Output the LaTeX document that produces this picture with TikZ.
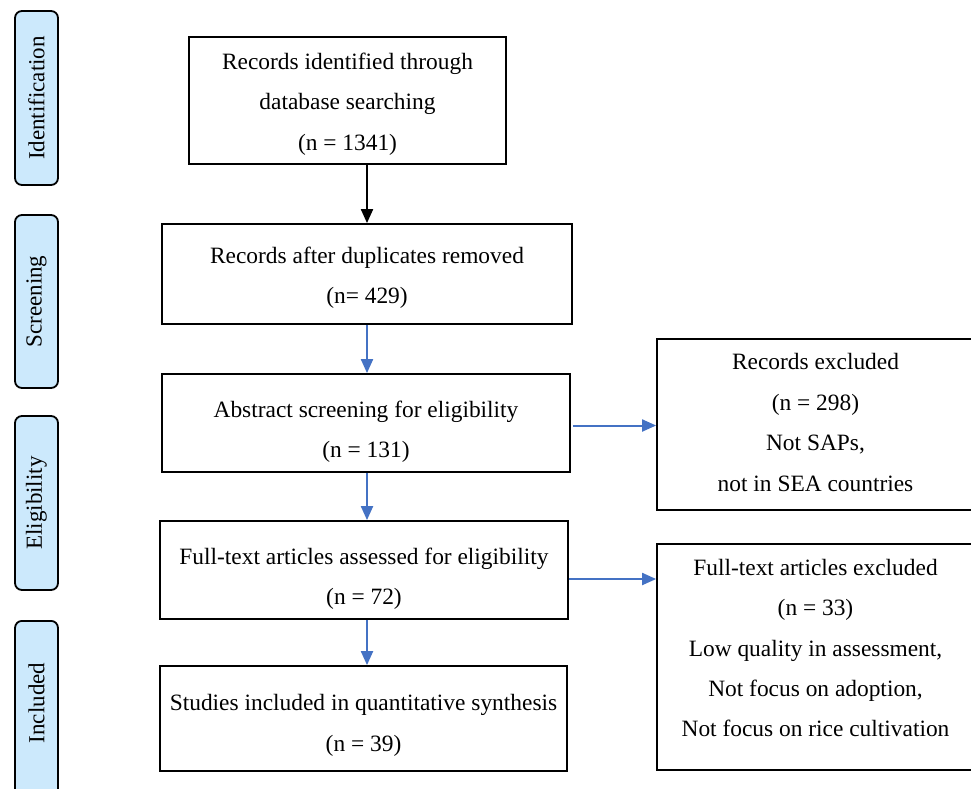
\documentclass[tikz,border=0pt]{standalone}
\usepackage{fontspec}
\setmainfont{Liberation Serif}
\usetikzlibrary{arrows.meta,calc}
\definecolor{sidefill}{HTML}{CCE9FC}
\definecolor{arrblue}{HTML}{4472C4}
\begin{document}
\begin{tikzpicture}[x=1pt,y=-1pt,
  box/.style={draw=black,line width=1.8pt,rectangle,inner sep=0pt},
  txt/.style={align=center,inner sep=0pt,font=\fontsize{23.4}{40.4}\selectfont},
  side/.style={draw=black,line width=1.8pt,rounded corners=7pt,fill=sidefill,
    minimum width=43pt,inner sep=0pt,font=\fontsize{23}{28}\selectfont},
  blarr/.style={draw=arrblue,line width=2pt,-{Triangle[length=14pt,width=12pt]}},
  bkarr/.style={draw=black,line width=2pt,-{Triangle[length=14pt,width=12pt]}}]
\useasboundingbox (0,0) rectangle (971,788);
\fill[white] (0,0) rectangle (971,788);
% side labels
\node[side,minimum height=174pt] (sid) at (36.5,98) {\rotatebox{90}{Identification}};
\node[side,minimum height=173pt] (sscr) at (36.5,301.5) {\rotatebox{90}{Screening}};
\node[side,minimum height=174pt] (selig) at (36.5,503) {\rotatebox{90}{Eligibility}};
\node[side,minimum height=180pt,anchor=north] (sinc) at (36.5,620) {};
\node (tinc) at (36.5,703) {\fontsize{23}{28}\selectfont\rotatebox{90}{Included}};
% main boxes
\node[box,minimum width=317pt,minimum height=127pt,
  label={[txt,yshift=-3.5pt]center:{Records identified through\\database searching\\(n = 1341)}}]
  (b1) at (347.5,100.5) {};
\node[box,minimum width=410pt,minimum height=100pt,
  label={[txt,yshift=-4pt]center:{Records after duplicates removed\\(n= 429)}}]
  (b2) at (367,274) {};
\node[box,minimum width=408pt,minimum height=98pt,
  label={[txt,yshift=-9pt]center:{Abstract screening for eligibility\\(n = 131)}}]
  (b3) at (366,423) {};
\node[box,minimum width=408pt,minimum height=98pt,
  label={[txt,yshift=-9pt]center:{Full-text articles assessed for eligibility\\(n = 72)}}]
  (b4) at (364,570) {};
\node[box,minimum width=407pt,minimum height=105pt,
  label={[txt,yshift=-7pt]center:{Studies included in quantitative synthesis\\(n = 39)}}]
  (b5) at (363.5,718.5) {};
\node[box,minimum width=317pt,minimum height=171pt,
  label={[txt,yshift=2pt]center:{Records excluded\\(n = 298)\\Not SAPs,\\not in SEA countries}}]
  (b6) at (815.5,424.5) {};
\node[box,minimum width=317pt,minimum height=226pt,
  label={[txt,yshift=9pt]center:{Full-text articles excluded\\(n = 33)\\Low quality in assessment,\\Not focus on adoption,\\Not focus on rice cultivation}}]
  (b7) at (815.5,657) {};
% arrows
\coordinate (c1) at (367,0);
\draw[bkarr] (b1.south -| c1) -- (b2.north -| c1);
\draw[blarr] (b2.south -| c1) -- (b3.north -| c1);
\draw[blarr] (b3.south -| c1) -- (b4.north -| c1);
\draw[blarr] (b4.south -| c1) -- (b5.north -| c1);
\coordinate (h1) at (0,425.5);
\coordinate (h2) at (0,579);
\draw[blarr] ([xshift=2pt]b3.east |- h1) -- (b6.west |- h1);
\draw[blarr] (b4.east |- h2) -- (b7.west |- h2);
\end{tikzpicture}
\end{document}
